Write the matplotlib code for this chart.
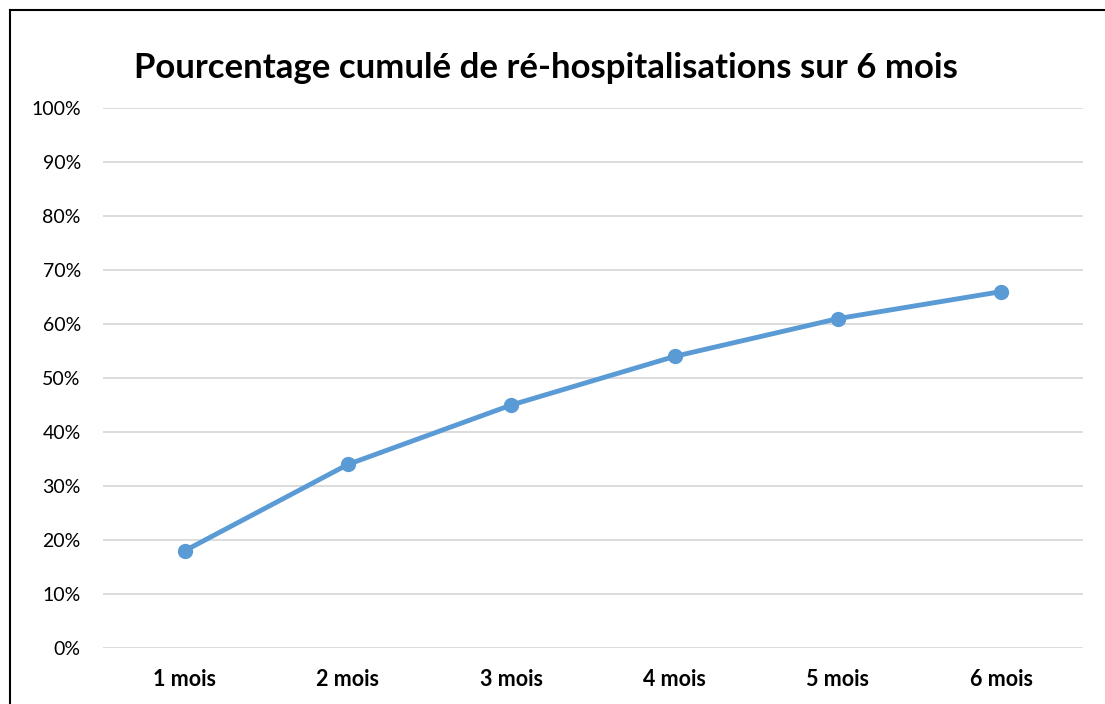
import matplotlib.pyplot as plt
from matplotlib.lines import Line2D
from matplotlib.ticker import PercentFormatter

months = ["1 mois", "2 mois", "3 mois", "4 mois", "5 mois", "6 mois"]
cumul_pct = [18, 34, 45, 54, 61, 66]

plt.rcParams['font.family'] = ['Lato', 'DejaVu Sans']

fig = plt.figure(figsize=(11.05, 7.04), dpi=100)
ax = fig.add_axes([103 / 1105, 1 - 648 / 704, 980 / 1105, 540 / 704])

x = range(len(months))
ax.plot(x, cumul_pct, color='#5B9BD5', linewidth=3.5, marker='o', markersize=10,
        solid_capstyle='round', zorder=3)

ax.set_xlim(-0.5, len(months) - 0.5)
ax.set_ylim(0, 100)
ax.set_yticks(range(0, 101, 10))
ax.yaxis.set_major_formatter(PercentFormatter(decimals=0))
ax.set_xticks(list(x))
ax.set_xticklabels(months, fontweight='bold', fontsize=15.5)
ax.tick_params(axis='both', length=0, colors='black')
ax.tick_params(axis='y', labelsize=14, pad=16)
ax.tick_params(axis='x', pad=15)
ax.grid(axis='y', color='#D9D9D9', linewidth=1.3)
ax.set_axisbelow(True)
for s in ax.spines.values():
    s.set_visible(False)

fig.text(546 / 1105, 1 - 68 / 704, "Pourcentage cumulé de ré-hospitalisations sur 6 mois",
         ha='center', va='center', fontsize=25, fontweight='bold')

# cadre du graphique (bord gauche et haut)
fig.add_artist(Line2D([9.5 / 1105, 9.5 / 1105], [0, 1 - 9.5 / 704], transform=fig.transFigure,
                      color='black', linewidth=1.5))
fig.add_artist(Line2D([9.5 / 1105, 1], [1 - 9.5 / 704, 1 - 9.5 / 704], transform=fig.transFigure,
                      color='black', linewidth=1.5))

fig.savefig('out.png', dpi=100)
